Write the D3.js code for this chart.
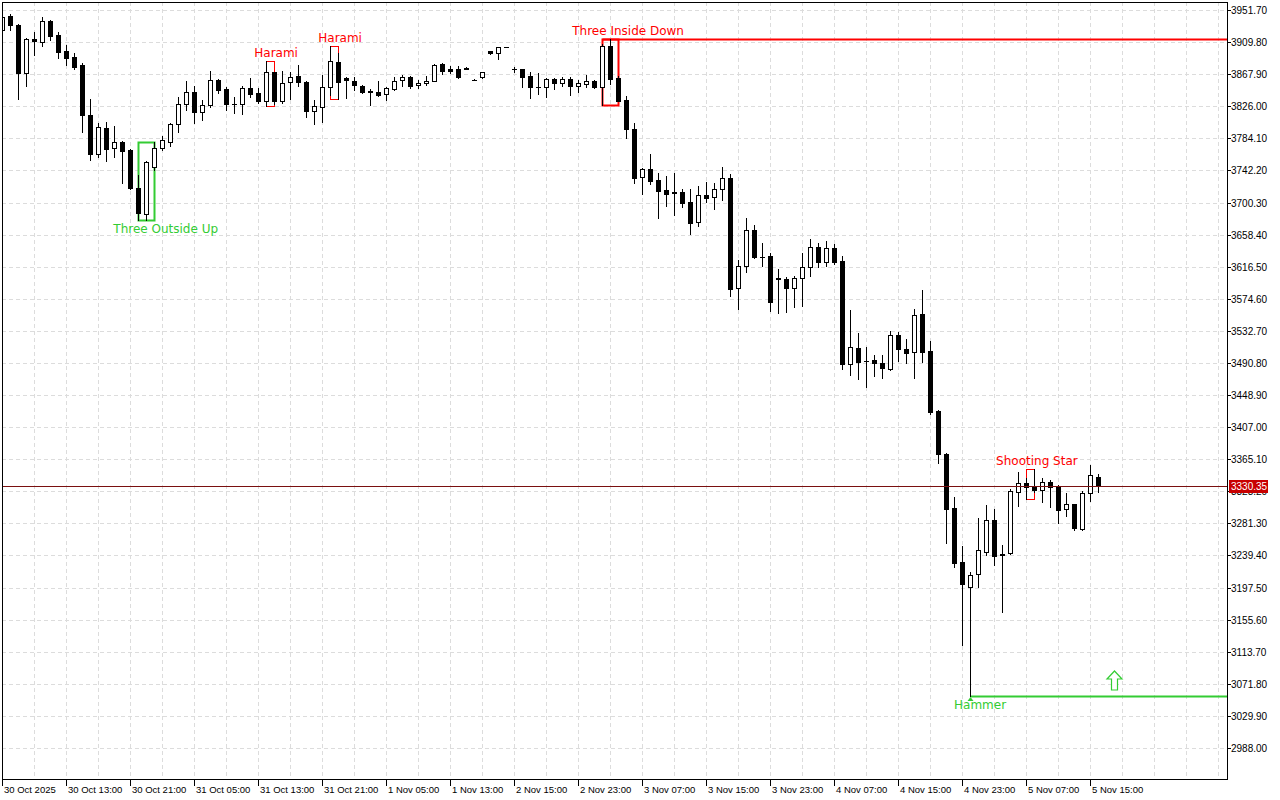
<!DOCTYPE html>
<html>
<head>
<meta charset="utf-8">
<script src="https://cdn.jsdelivr.net/npm/d3@7"></script>
<style>
  html, body { margin: 0; padding: 0; background: #fff; }
  svg { display: block; }
</style>
</head>
<body>
<svg id="chart" width="1280" height="800"></svg>
<script>
// ---------------- DATA (hourly candles, ETH-like) ----------------
const open = [
3925.6,3943.9,3932.1,3869.4,3913.2,3909.9,3937.3,3919.1,3898.2,3890.3,
3879.9,3814.6,3763.7,3797.6,3771.5,3779.3,3768.9,3719.3,3685.3,3746.7,
3771.5,3779.3,3802.8,3829.0,3844.6,3818.5,3827.7,3860.3,3848.5,3829.0,
3829.0,3849.9,3843.3,3832.9,3870.7,3832.9,3857.7,3865.5,3857.7,3819.8,
3825.0,3851.2,3883.8,3862.9,3859.0,3852.5,3845.9,3844.6,3842.0,3848.5,
3860.3,3864.2,3853.8,3856.4,3859.0,3881.2,3874.7,3874.7,3876.6,3860.9,
3864.2,3898.2,3895.6,3903.4,3874.7,3874.7,3865.5,3851.8,3851.2,3861.6,
3856.4,3861.6,3852.5,3855.1,3859.0,3851.2,3904.7,3862.9,3834.2,3796.3,
3733.6,3744.1,3729.7,3716.7,3713.4,3714.1,3701.0,3674.9,3710.1,3707.5,
3718.0,3732.3,3588.7,3617.4,3664.4,3629.8,3630.5,3601.1,3600.4,3588.7,
3601.7,3616.1,3642.2,3622.6,3640.9,3623.9,3489.5,3510.3,3494.0,3494.7,
3490.8,3482.9,3527.3,3509.0,3505.1,3554.7,3506.4,3428.1,3371.9,3301.4,
3230.9,3198.3,3215.2,3244.0,3285.7,3240.7,3242.7,3322.3,3334.1,3328.8,
3324.9,3335.4,3330.1,3300.1,3306.6,3274.0,3321.0,3341.9
];
const high = [
3946.5,3946.5,3933.4,3914.5,3923.0,3942.6,3938.0,3923.0,3906.0,3895.6,
3882.5,3835.5,3804.1,3805.5,3800.2,3780.6,3770.2,3736.2,3754.5,3779.3,
3787.2,3804.1,3838.1,3859.0,3852.5,3834.2,3872.1,3862.0,3851.2,3838.1,
3852.5,3862.9,3849.9,3885.1,3871.0,3872.1,3870.7,3879.9,3859.0,3834.2,
3866.8,3904.7,3895.6,3864.2,3864.2,3853.8,3848.5,3859.0,3851.2,3864.2,
3866.8,3865.5,3860.3,3865.5,3881.2,3882.5,3878.6,3878.6,3877.3,3861.2,
3871.0,3898.8,3904.0,3903.6,3877.7,3874.9,3870.7,3869.4,3862.9,3862.9,
3864.2,3864.2,3860.3,3866.8,3860.3,3907.3,3913.8,3865.5,3839.4,3804.1,
3745.4,3763.7,3738.9,3735.0,3738.9,3718.0,3718.0,3721.9,3727.1,3725.8,
3746.7,3737.5,3625.3,3680.1,3670.9,3647.5,3634.4,3613.5,3603.0,3604.3,
3634.4,3652.7,3647.5,3650.1,3646.2,3630.5,3560.0,3529.9,3511.6,3501.2,
3501.2,3532.5,3531.2,3522.1,3561.3,3586.1,3519.5,3429.4,3373.2,3315.8,
3251.8,3217.8,3288.4,3305.3,3300.1,3253.1,3326.2,3348.4,3340.6,3352.3,
3340.6,3338.0,3331.4,3321.0,3306.9,3323.6,3357.5,3345.8
];
const low = [
3924.3,3925.6,3835.5,3852.5,3892.9,3904.7,3912.5,3889.0,3879.9,3874.7,
3792.4,3755.8,3759.8,3754.5,3759.8,3725.8,3718.0,3677.5,3677.5,3742.8,
3768.9,3774.1,3792.4,3821.1,3804.1,3808.1,3825.0,3843.3,3821.1,3817.2,
3815.9,3838.1,3830.3,3826.3,3829.0,3830.3,3835.5,3852.5,3812.0,3802.8,
3805.5,3840.7,3835.5,3836.8,3847.2,3843.3,3827.7,3839.4,3834.2,3847.2,
3852.5,3849.9,3849.9,3853.8,3858.5,3868.1,3869.4,3863.5,3874.7,3859.9,
3862.9,3894.2,3887.7,3902.8,3870.7,3851.2,3836.8,3842.0,3838.1,3848.5,
3852.5,3840.7,3844.6,3851.2,3849.9,3827.7,3855.1,3832.9,3784.6,3725.8,
3711.4,3724.5,3680.1,3695.8,3684.0,3694.5,3659.2,3669.6,3701.0,3691.8,
3703.6,3578.2,3561.3,3609.6,3627.9,3617.4,3558.7,3556.0,3557.4,3563.9,
3565.2,3604.3,3616.1,3617.4,3620.0,3482.9,3475.1,3469.9,3459.4,3473.8,
3471.2,3481.6,3493.4,3490.8,3471.2,3492.1,3424.2,3360.2,3255.7,3224.4,
3122.5,3055.9,3198.3,3240.0,3227.0,3165.6,3241.4,3304.0,3313.2,3322.3,
3309.2,3302.7,3281.8,3291.0,3272.7,3273.3,3310.5,3322.3
];
const close = [
3942.6,3932.1,3869.4,3913.8,3910.6,3937.3,3917.8,3896.9,3889.0,3877.3,
3814.6,3763.7,3798.9,3770.2,3779.3,3767.6,3719.3,3686.6,3753.2,3771.5,
3782.0,3802.8,3829.0,3844.6,3818.5,3827.7,3860.3,3847.2,3829.0,3828.3,
3849.9,3842.0,3832.9,3870.7,3833.3,3856.4,3864.2,3857.7,3819.8,3826.3,
3851.2,3885.1,3857.7,3860.3,3853.8,3844.6,3844.6,3840.7,3849.9,3859.0,
3864.2,3852.5,3856.4,3859.0,3879.9,3872.1,3872.1,3864.2,3875.3,3860.3,
3870.7,3895.6,3903.4,3903.0,3874.6,3864.2,3851.2,3851.2,3861.6,3856.4,
3861.6,3852.5,3856.4,3859.0,3851.2,3904.7,3861.6,3833.3,3796.3,3732.3,
3744.1,3728.4,3715.4,3711.4,3712.7,3699.7,3673.6,3710.1,3706.2,3718.0,
3732.3,3587.4,3617.4,3664.4,3629.2,3629.2,3570.4,3600.4,3588.7,3601.7,
3616.1,3642.2,3622.6,3640.9,3622.6,3489.5,3511.6,3492.1,3493.4,3490.8,
3484.2,3527.3,3509.0,3503.8,3553.4,3505.1,3426.8,3371.9,3300.1,3229.6,
3202.2,3213.9,3246.6,3285.7,3238.7,3240.0,3323.6,3334.1,3328.8,3324.9,
3335.4,3328.8,3298.8,3306.6,3275.3,3321.0,3344.5,3330.35
];

const currentPrice = 3330.35;

const yTickValues = [3951.70,3909.80,3867.90,3826.00,3784.10,3742.20,3700.30,3658.40,
  3616.50,3574.60,3532.70,3490.80,3448.90,3407.00,3365.10,3323.20,3281.30,3239.40,
  3197.50,3155.60,3113.70,3071.80,3029.90,2988.00];

const xTickBars   = [0,8,16,24,32,40,48,56,64,72,80,88,96,104,112,120,128,136];
const xTickLabels = ["30 Oct 2025","30 Oct 13:00","30 Oct 21:00","31 Oct 05:00","31 Oct 13:00",
  "31 Oct 21:00","1 Nov 05:00","1 Nov 13:00","2 Nov 15:00","2 Nov 23:00","3 Nov 07:00",
  "3 Nov 15:00","3 Nov 23:00","4 Nov 07:00","4 Nov 15:00","4 Nov 23:00","5 Nov 07:00","5 Nov 15:00"];

// candlestick patterns: first bar, last bar, label anchor (bar units)
const patternNames = ["Three Outside Up","Harami","Harami","Three Inside Down","Shooting Star","Hammer"];
const patternFrom  = [17,33,41,75,128,121];
const patternTo    = [19,34,42,77,129,121];
const patternLabelAt = [20.4,34.2,42.2,78.2,129.3,122.2];
const patternBullish = [true,false,false,false,false,true];

// ---------------- CHART ----------------
const svg = d3.select("#chart");
const L = 2, R = 1227, T = 2, B = 779;
const n = open.length;

const x = d3.scaleLinear().domain([0, 1]).range([2.5, 10.5]);
const y = d3.scaleLinear().domain([2988.0, 3951.7]).range([748, 10]);
const py = v => Math.round(y(v));

const GREEN = "#33cc33", RED = "#ff0000";

// grid
const grid = svg.append("g").attr("stroke", "#dcdcdc").attr("stroke-dasharray", "4,3").attr("stroke-width", 1);
grid.selectAll("line.h").data(yTickValues).join("line")
  .attr("x1", L).attr("x2", R)
  .attr("y1", d => py(d) + 0.5).attr("y2", d => py(d) + 0.5);
grid.selectAll("line.v").data(d3.range(4, 156, 4)).join("line")
  .attr("x1", d => x(d)).attr("x2", d => x(d))
  .attr("y1", T).attr("y2", B);

svg.append("clipPath").attr("id", "plotclip")
  .append("rect").attr("x", L).attr("y", T).attr("width", R - L).attr("height", B - T);
const plot = svg.append("g").attr("clip-path", "url(#plotclip)");

// pattern boxes and level lines (under candles)
const pat = plot.append("g");
patternNames.forEach((name, k) => {
  const a = patternFrom[k], b = patternTo[k];
  const hi = d3.max(d3.range(a, b + 1), i => high[i]);
  const lo = d3.min(d3.range(a, b + 1), i => low[i]);
  const col = patternBullish[k] ? GREEN : RED;
  const sw = (b - a) === 2 ? 2 : 1;
  if (a !== b) {
    pat.append("rect")
      .attr("x", x(a)).attr("y", py(hi) + 0.5)
      .attr("width", x(b) - x(a)).attr("height", py(lo) - py(hi))
      .attr("fill", "none").attr("stroke", col).attr("stroke-width", sw);
  }
  if (name === "Three Inside Down") {
    pat.append("line").attr("x1", x(a)).attr("x2", R)
      .attr("y1", py(hi) + 0.5).attr("y2", py(hi) + 0.5)
      .attr("stroke", col).attr("stroke-width", 2);
  }
  if (name === "Hammer") {
    pat.append("line").attr("x1", x(a)).attr("x2", R)
      .attr("y1", py(lo) + 0.5).attr("y2", py(lo) + 0.5)
      .attr("stroke", col).attr("stroke-width", 2);
  }
});

// candles
const idx = d3.range(n);
const cg = plot.append("g");
cg.selectAll("rect.wick").data(idx).join("rect")
  .attr("x", i => x(i) - 0.5).attr("width", 1)
  .attr("y", i => py(high[i]))
  .attr("height", i => Math.max(1, py(low[i]) - py(high[i]) + 1))
  .attr("fill", "#000");
cg.selectAll("rect.body").data(idx).join("rect")
  .each(function(i) {
    const top = py(Math.max(open[i], close[i]));
    const bot = py(Math.min(open[i], close[i]));
    const s = d3.select(this);
    if (close[i] > open[i] && bot - top >= 2) {
      s.attr("x", x(i) - 2).attr("y", top + 0.5).attr("width", 4).attr("height", bot - top)
       .attr("fill", "#fff").attr("stroke", "#000").attr("stroke-width", 1);
    } else {
      s.attr("x", x(i) - 2.5).attr("y", top).attr("width", 5).attr("height", Math.max(1, bot - top + 1))
       .attr("fill", "#000");
    }
  });

// current price line
svg.append("line").attr("x1", L).attr("x2", R)
  .attr("y1", py(currentPrice) + 0.5).attr("y2", py(currentPrice) + 0.5)
  .attr("stroke", "#7a1010").attr("stroke-width", 1);

// pattern labels
patternNames.forEach((name, k) => {
  const a = patternFrom[k], b = patternTo[k];
  const hi = d3.max(d3.range(a, b + 1), i => high[i]);
  const lo = d3.min(d3.range(a, b + 1), i => low[i]);
  const bull = patternBullish[k];
  svg.append("text")
    .attr("x", x(patternLabelAt[k]))
    .attr("y", bull ? py(lo) + 9 : py(hi) - 8)
    .attr("text-anchor", "middle").attr("dominant-baseline", "central")
    .attr("font-family", "DejaVu Sans, sans-serif").attr("font-size", 12)
    .attr("fill", bull ? GREEN : RED)
    .text(name);
  if (name === "Hammer") {
    const yl = py(lo);
    svg.append("path")
      .attr("d", `M${x(a)},${yl + 1} l3,4 l-6,0 Z`)
      .attr("fill", GREEN);
    const cx = x(139), top = yl - 25, bottom = yl - 6;
    svg.append("path")
      .attr("d", `M${cx},${top} L${cx + 7.5},${top + 8} L${cx + 3},${top + 8} L${cx + 3},${bottom} L${cx - 3},${bottom} L${cx - 3},${top + 8} L${cx - 7.5},${top + 8} Z`)
      .attr("fill", "#fff").attr("stroke", GREEN).attr("stroke-width", 1.2);
  }
});

// frame
svg.append("rect").attr("x", L + 0.5).attr("y", T + 0.5)
  .attr("width", R - L).attr("height", B - T)
  .attr("fill", "none").attr("stroke", "#000").attr("stroke-width", 1);

// y axis
const cpY = py(currentPrice) + 0.5;
const yaFont = "Liberation Sans, Arial, sans-serif";
const ya = svg.append("g").attr("font-family", yaFont).attr("font-size", 10);
ya.selectAll("line").data(yTickValues).join("line")
  .attr("x1", R).attr("x2", R + 4)
  .attr("y1", d => py(d) + 0.5).attr("y2", d => py(d) + 0.5)
  .attr("stroke", "#000");
ya.selectAll("text").data(yTickValues).join("text")
  .attr("x", R + 4).attr("y", d => py(d) + 0.5)
  .attr("dominant-baseline", "central").attr("fill", "#000")
  .text(d => d.toFixed(2));

// current price tag (drawn over the tick label it partly covers, as in the reference)
svg.append("rect").attr("x", R + 2).attr("y", cpY - 6.5).attr("width", 39).attr("height", 13)
  .attr("fill", "#c80000");
svg.append("text").attr("x", R + 4).attr("y", cpY)
  .attr("dominant-baseline", "central")
  .attr("font-family", yaFont).attr("font-size", 10)
  .attr("fill", "#fff").text(currentPrice.toFixed(2));

// x axis
const xa = svg.append("g").attr("font-family", "Liberation Sans, Arial, sans-serif").attr("font-size", 9.5);
xa.selectAll("line").data(xTickBars).join("line")
  .attr("x1", d => x(d)).attr("x2", d => x(d))
  .attr("y1", B).attr("y2", B + 7).attr("stroke", "#000");
xa.selectAll("text").data(xTickBars).join("text")
  .attr("x", d => x(d) + 1.5).attr("y", 793)
  .attr("fill", "#000")
  .text((d, i) => xTickLabels[i]);
</script>
</body>
</html>
